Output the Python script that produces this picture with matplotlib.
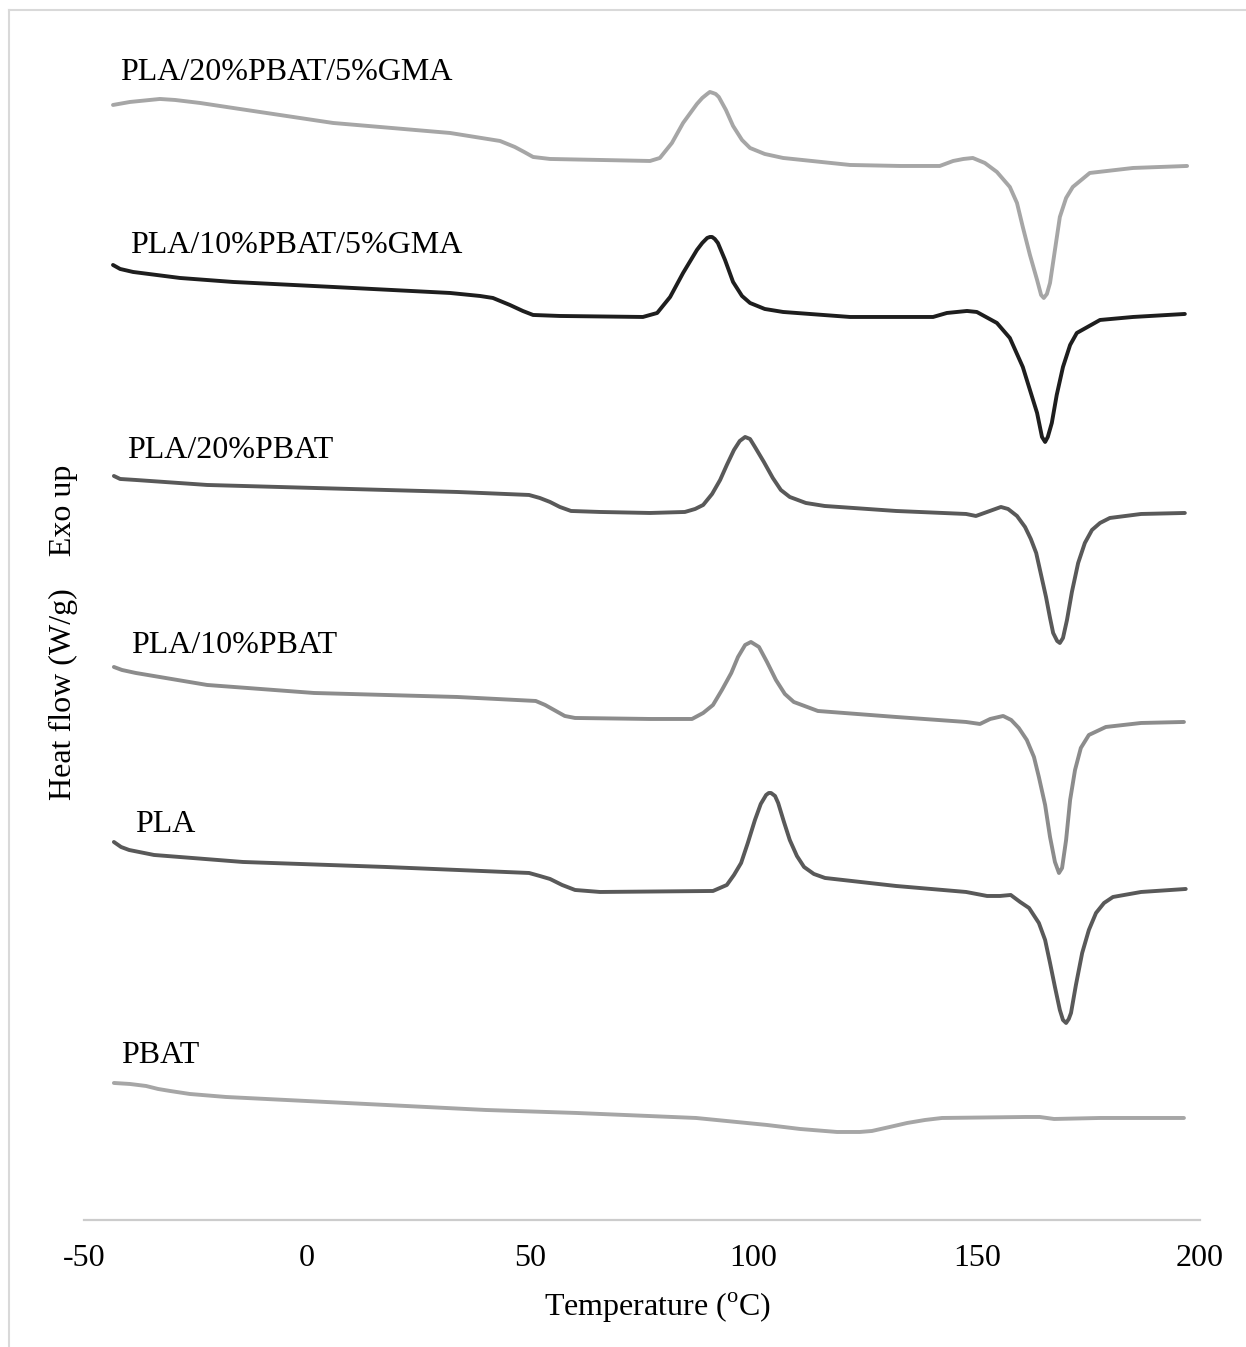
import matplotlib
matplotlib.use("Agg")
import matplotlib.pyplot as plt
from matplotlib.lines import Line2D

plt.rcParams["font.family"] = ["Liberation Serif", "DejaVu Serif"]
plt.rcParams["mathtext.fontset"] = "custom"
plt.rcParams["mathtext.rm"] = "Liberation Serif"
plt.rcParams["axes.unicode_minus"] = False

# DSC traces: temperature (C) and heat flow (stacked, a.u.)
t_gma20 = [-43.5, -39.7, -33.0, -29.6, -24.0, -16.6, 5.8, 32.0, 43.2, 46.5, 48.6, 50.6, 54.4, 65.6,
           76.8, 79.0, 81.7, 84.2, 87.3, 88.5, 89.6, 90.2, 90.9, 91.5, 92.2, 93.8, 95.4, 97.4, 99.2,
           102.5, 106.6, 121.6, 132.8, 141.7, 144.7, 147.0, 149.1, 151.8, 154.5, 157.4, 159.0,
           160.3, 161.9, 163.5, 164.4, 165.0, 165.7, 166.4, 167.5, 168.6, 170.0, 171.5, 175.3,
           185.0, 197.1]
hf_gma20 = [11.15, 11.18, 11.21, 11.20, 11.17, 11.12, 10.97, 10.87, 10.79, 10.73, 10.68, 10.63, 10.61,
            10.60, 10.59, 10.62, 10.77, 10.97, 11.16, 11.22, 11.26, 11.28, 11.27, 11.26, 11.23,
            11.10, 10.94, 10.80, 10.72, 10.66, 10.62, 10.55, 10.54, 10.54, 10.59, 10.61, 10.62,
            10.57, 10.48, 10.33, 10.17, 9.93, 9.65, 9.40, 9.25, 9.22, 9.26, 9.37, 9.70, 10.03,
            10.22, 10.33, 10.47, 10.52, 10.54]

t_gma10 = [-43.5, -41.9, -39.0, -28.5, -16.6, 5.8, 32.0, 38.7, 41.6, 45.4, 48.3, 50.6, 56.6, 75.2,
           78.4, 81.3, 84.2, 87.3, 88.5, 89.6, 90.2, 90.7, 91.3, 92.0, 93.6, 95.4, 97.4, 99.2,
           102.5, 106.6, 121.6, 140.2, 143.3, 147.8, 150.0, 154.5, 157.4, 160.3, 161.9, 163.5,
           164.6, 165.3, 165.9, 166.8, 167.9, 169.3, 170.9, 172.4, 177.6, 185.0, 196.6]
hf_gma10 = [9.55, 9.51, 9.48, 9.42, 9.38, 9.33, 9.27, 9.24, 9.22, 9.15, 9.09, 9.05, 9.04, 9.03,
            9.07, 9.23, 9.47, 9.70, 9.77, 9.82, 9.83, 9.83, 9.81, 9.77, 9.60, 9.38, 9.24, 9.17,
            9.11, 9.08, 9.03, 9.03, 9.07, 9.09, 9.08, 8.97, 8.82, 8.53, 8.30, 8.07, 7.83, 7.78,
            7.83, 7.97, 8.25, 8.53, 8.75, 8.87, 9.00, 9.03, 9.06]

t_pbat20 = [-43.3, -41.9, -38.4, -22.4, 9.6, 33.6, 49.7, 52.1, 54.4, 56.6, 59.1, 65.6, 76.8, 84.6,
            86.9, 88.7, 90.7, 92.5, 94.0, 95.6, 96.9, 98.1, 99.2, 100.3, 102.3, 104.3, 106.1,
            108.1, 111.7, 115.9, 131.9, 147.6, 149.8, 152.3, 155.4, 157.0, 159.0, 160.8, 162.1,
            163.3, 164.4, 165.5, 166.4, 167.1, 168.0, 168.6, 169.3, 170.2, 171.3, 172.7, 174.2,
            175.8, 177.6, 179.8, 186.8, 196.6]
hf_pbat20 = [7.44, 7.41, 7.40, 7.35, 7.31, 7.28, 7.25, 7.22, 7.18, 7.13, 7.09, 7.08, 7.07, 7.08,
             7.11, 7.15, 7.26, 7.40, 7.55, 7.70, 7.79, 7.83, 7.81, 7.73, 7.58, 7.42, 7.30, 7.23,
             7.17, 7.14, 7.09, 7.06, 7.04, 7.08, 7.13, 7.11, 7.04, 6.93, 6.81, 6.67, 6.45, 6.23,
             6.02, 5.87, 5.79, 5.77, 5.82, 6.00, 6.28, 6.57, 6.77, 6.90, 6.97, 7.02, 7.06, 7.07]

t_pbat10 = [-43.3, -41.5, -38.4, -22.4, 1.5, 33.6, 51.2, 53.3, 55.3, 57.7, 60.0, 76.8, 86.2, 88.7,
            90.9, 92.9, 95.0, 96.5, 98.1, 99.4, 101.2, 103.0, 105.0, 107.0, 109.0, 114.4, 131.9,
            147.6, 150.7, 153.0, 155.9, 157.7, 159.4, 161.2, 162.8, 163.9, 165.3, 166.4, 167.5,
            168.4, 169.1, 170.0, 170.9, 172.0, 173.3, 175.1, 178.9, 186.8, 196.4]
hf_pbat10 = [5.53, 5.50, 5.47, 5.35, 5.27, 5.23, 5.19, 5.15, 5.10, 5.04, 5.02, 5.01, 5.01, 5.07,
             5.15, 5.30, 5.47, 5.63, 5.75, 5.78, 5.73, 5.58, 5.40, 5.26, 5.18, 5.09, 5.03, 4.98,
             4.96, 5.01, 5.04, 5.00, 4.92, 4.80, 4.63, 4.43, 4.15, 3.83, 3.58, 3.47, 3.52, 3.80,
             4.20, 4.50, 4.72, 4.85, 4.93, 4.97, 4.98]

t_pla = [-43.3, -41.7, -39.9, -34.3, -14.4, 17.6, 49.7, 52.1, 54.4, 57.1, 60.0, 65.6, 90.9, 94.0,
         95.6, 97.2, 98.7, 100.3, 101.6, 102.8, 103.4, 103.9, 104.8, 105.5, 106.8, 108.1, 109.7,
         111.3, 113.5, 116.0, 131.9, 147.6, 152.3, 155.2, 157.6, 159.7, 161.7, 163.9, 165.3,
         166.4, 167.5, 168.6, 169.3, 170.0, 170.6, 171.1, 172.2, 173.6, 175.1, 176.7, 178.5,
         180.5, 186.8, 196.8]
hf_pla = [3.78, 3.73, 3.70, 3.65, 3.58, 3.53, 3.47, 3.44, 3.41, 3.35, 3.30, 3.28, 3.29, 3.35,
          3.45, 3.57, 3.77, 4.00, 4.16, 4.25, 4.27, 4.27, 4.24, 4.17, 3.98, 3.80, 3.64, 3.53,
          3.46, 3.42, 3.34, 3.28, 3.24, 3.24, 3.25, 3.18, 3.12, 2.97, 2.80, 2.57, 2.33, 2.10,
          2.00, 1.97, 2.01, 2.07, 2.35, 2.67, 2.90, 3.07, 3.17, 3.23, 3.28, 3.31]

t_pbat = [-43.3, -39.7, -36.1, -33.4, -30.7, -26.3, -18.2, 8.7, 40.0, 60.4, 87.1, 103.0, 110.4,
          118.7, 123.8, 126.5, 130.5, 134.4, 138.4, 142.2, 161.0, 164.1, 167.3, 177.6, 196.4]
hf_pbat = [1.37, 1.36, 1.34, 1.31, 1.29, 1.26, 1.23, 1.17, 1.10, 1.07, 1.02, 0.95, 0.91, 0.88,
           0.88, 0.89, 0.93, 0.97, 1.00, 1.02, 1.03, 1.03, 1.01, 1.02, 1.02]

names = ["PLA/20%PBAT/5%GMA", "PLA/10%PBAT/5%GMA", "PLA/20%PBAT", "PLA/10%PBAT", "PLA", "PBAT"]
temps = [t_gma20, t_gma10, t_pbat20, t_pbat10, t_pla, t_pbat]
flows = [hf_gma20, hf_gma10, hf_pbat20, hf_pbat10, hf_pla, hf_pbat]
colors = ["#a6a6a6", "#1e1e1e", "#595959", "#8c8c8c", "#595959", "#a6a6a6"]
# label anchor (temperature, heat flow) for the curve names
label_x = [-41.9, -39.7, -40.4, -39.5, -38.6, -41.7]
label_y = [11.40, 9.67, 7.62, 5.67, 3.88, 1.57]

fig = plt.figure(figsize=(12.46, 13.47), dpi=100)
ax = fig.add_axes([0.0674, 0.0943, 0.8957, 0.8983])

for t, hf, c in zip(temps, flows, colors):
    ax.plot(t, hf, color=c, lw=2.8, solid_capstyle="round", solid_joinstyle="round")

for name, lx, ly in zip(names, label_x, label_y):
    ax.text(lx, ly, name, fontsize=23, va="baseline", ha="left", color="black")

ax.set_xlim(-50, 200)
ax.set_ylim(0, 12.10)
ax.set_xticks([-50, 0, 50, 100, 150, 200])
ax.set_yticks([])
ax.tick_params(axis="x", length=0, pad=17, labelsize=23)
for s in ["left", "top", "right"]:
    ax.spines[s].set_visible(False)
ax.spines["bottom"].set_color("#cccccc")
ax.spines["bottom"].set_linewidth(1.6)

ax.text(0.514, -0.073, "Temperature ($^{\\mathrm{o}}$C)", transform=ax.transAxes,
        fontsize=23, ha="center", va="center")
fig.text(63 / 1246, 1 - 632 / 1347, "Heat flow (W/g)    Exo up", rotation=90,
         fontsize=23, ha="center", va="center")

# outer frame (only left and top edges visible in the crop)
fig.add_artist(Line2D([9 / 1246, 9 / 1246], [0, 1 - 10 / 1347], color="#d9d9d9", lw=1.5,
                      transform=fig.transFigure))
fig.add_artist(Line2D([9 / 1246, 1], [1 - 10 / 1347, 1 - 10 / 1347], color="#d9d9d9", lw=1.5,
                      transform=fig.transFigure))

fig.savefig("out.png", dpi=100)
